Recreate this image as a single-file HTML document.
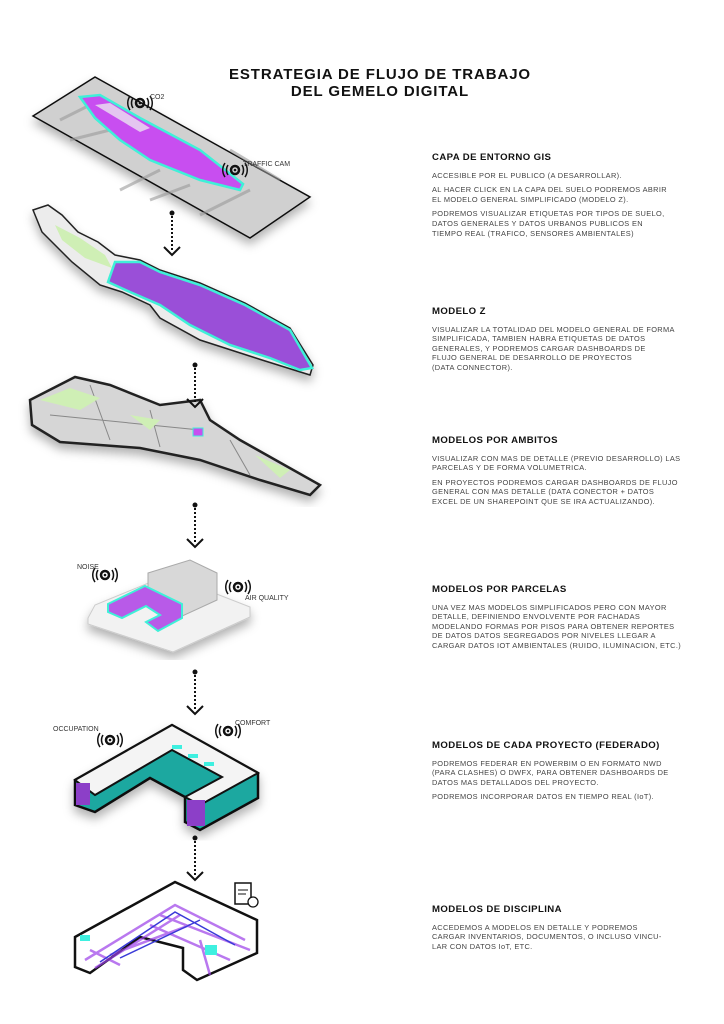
<!DOCTYPE html>
<html><head><meta charset="utf-8"><style>
body{margin:0;background:#fff;width:724px;height:1024px;overflow:hidden;position:relative;font-family:"Liberation Sans",sans-serif}
.t{position:absolute;left:210px;top:66px;width:340px;text-align:center;font-weight:bold;font-size:15px;line-height:17px;letter-spacing:0.9px;color:#111}
.c{position:absolute;left:432px;width:285px;color:#444;font-size:7.4px;line-height:9.6px;letter-spacing:0.35px}
.c h{display:block;font-weight:bold;font-size:9.6px;color:#111;margin-bottom:8px;letter-spacing:0.4px}
.c p{margin:0 0 5px 0}
svg{position:absolute;left:0;top:0}
.l{font-size:7px;fill:#333;font-family:"Liberation Sans",sans-serif}
</style></head><body>
<div class="t">ESTRATEGIA DE FLUJO DE TRABAJO<br>DEL GEMELO DIGITAL</div>
<div class="c" style="top:153px"><h>CAPA DE ENTORNO GIS</h><p>ACCESIBLE POR EL PUBLICO (A DESARROLLAR).</p><p>AL HACER CLICK EN LA CAPA DEL SUELO PODREMOS ABRIR<br>EL MODELO GENERAL SIMPLIFICADO (MODELO Z).</p><p>PODREMOS VISUALIZAR ETIQUETAS POR TIPOS DE SUELO,<br>DATOS GENERALES Y DATOS URBANOS PUBLICOS EN<br>TIEMPO REAL (TRAFICO, SENSORES AMBIENTALES)</p></div>
<div class="c" style="top:307px"><h>MODELO Z</h><p>VISUALIZAR LA TOTALIDAD DEL MODELO GENERAL DE FORMA<br>SIMPLIFICADA, TAMBIEN HABRA ETIQUETAS DE DATOS<br>GENERALES, Y PODREMOS CARGAR DASHBOARDS DE<br>FLUJO GENERAL DE DESARROLLO DE PROYECTOS<br>(DATA CONNECTOR).</p></div>
<div class="c" style="top:436px"><h>MODELOS POR AMBITOS</h><p>VISUALIZAR CON MAS DE DETALLE (PREVIO DESARROLLO) LAS<br>PARCELAS Y DE FORMA VOLUMETRICA.</p><p>EN PROYECTOS PODREMOS CARGAR DASHBOARDS DE FLUJO<br>GENERAL CON MAS DETALLE (DATA CONECTOR + DATOS<br>EXCEL DE UN SHAREPOINT QUE SE IRA ACTUALIZANDO).</p></div>
<div class="c" style="top:585px"><h>MODELOS POR PARCELAS</h><p>UNA VEZ MAS MODELOS SIMPLIFICADOS PERO CON MAYOR<br>DETALLE, DEFINIENDO ENVOLVENTE POR FACHADAS<br>MODELANDO FORMAS POR PISOS PARA OBTENER REPORTES<br>DE DATOS DATOS SEGREGADOS POR NIVELES LLEGAR A<br>CARGAR DATOS IOT AMBIENTALES (RUIDO, ILUMINACION, ETC.)</p></div>
<div class="c" style="top:741px"><h>MODELOS DE CADA PROYECTO (FEDERADO)</h><p>PODREMOS FEDERAR EN POWERBIM O EN FORMATO NWD<br>(PARA CLASHES) O DWFX, PARA OBTENER DASHBOARDS DE<br>DATOS MAS DETALLADOS DEL PROYECTO.</p><p>PODREMOS INCORPORAR DATOS EN TIEMPO REAL (IoT).</p></div>
<div class="c" style="top:905px"><h>MODELOS DE DISCIPLINA</h><p>ACCEDEMOS A MODELOS EN DETALLE Y PODREMOS<br>CARGAR INVENTARIOS, DOCUMENTOS, O INCLUSO VINCU-<br>LAR CON DATOS IoT, ETC.</p></div>
<svg width="724" height="1024" viewBox="0 0 724 1024">
<defs>
<g id="arr"><circle cx="0" cy="0" r="2.5" fill="#111"/><line x1="0" y1="3" x2="0" y2="38" stroke="#111" stroke-width="2" stroke-dasharray="2,2"/><polyline points="-8,34 0,42 8,34" fill="none" stroke="#111" stroke-width="2"/></g>
<g id="sen"><circle r="4" fill="none" stroke="#111" stroke-width="2.5"/><circle r="1.3" fill="#111"/><path d="M-7,-5 A9,9 0 0 0 -7,5 M7,-5 A9,9 0 0 1 7,5 M-10,-7 A12,12 0 0 0 -10,7 M10,-7 A12,12 0 0 1 10,7" fill="none" stroke="#111" stroke-width="1.5"/></g>
<filter id="sh"><feDropShadow dx="0" dy="6" stdDeviation="5" flood-opacity="0.3"/></filter>
</defs>
<!-- 1 GIS -->
<polygon points="33,116 95,77 310,197 250,238" fill="#d0d0d0" stroke="#111" stroke-width="1.5" filter="url(#sh)"/>
<path d="M60,120 L100,100 M120,190 L160,170 M200,215 L250,190 M230,150 L280,180 M70,140 L110,130 M150,200 L190,185" stroke="#999" stroke-width="3" fill="none" opacity="0.6"/>
<polygon points="80,97 100,95 140,118 200,150 243,184 240,190 200,180 150,160 120,140 95,118" fill="#c84ef0" stroke="#3ff0d8" stroke-width="2.5"/>
<polygon points="95,105 110,103 150,128 140,132" fill="#e4c6f0"/>
<use href="#sen" x="140" y="103"/><text class="l" x="150" y="99">CO2</text>
<use href="#sen" x="235" y="170"/><text class="l" x="243" y="166">TRAFFIC CAM</text>
<!-- 2 Modelo Z -->
<polygon points="33,210 48,205 62,215 78,232 98,242 115,255 140,260 160,270 200,283 245,303 290,328 313,365 310,375 262,360 200,340 160,318 150,305 122,292 100,285 72,262 42,232" fill="#ececec" stroke="#222" stroke-width="1.5" filter="url(#sh)"/>
<polygon points="55,225 80,238 105,255 112,268 85,258 62,240" fill="#cfefb5"/>
<polygon points="108,282 115,262 140,262 160,272 200,285 245,305 290,330 312,368 300,370 270,358 230,345 190,325 160,305 130,292" fill="#9a4fd8" stroke="#3ff0d8" stroke-width="2.5"/>
<!-- 3 Ambitos -->
<polygon points="30,400 75,377 110,385 160,405 200,400 210,420 240,440 320,485 310,495 260,480 200,460 140,448 60,442 32,425" fill="#d6d6d6" stroke="#222" stroke-width="2.5" filter="url(#sh)"/>
<path d="M50,415 L200,430 M90,385 L110,440 M150,410 L160,447 M230,440 L250,475" stroke="#888" stroke-width="1" fill="none"/>
<polygon points="40,400 70,388 100,398 80,410" fill="#cfefb5"/><polygon points="130,415 160,420 150,430" fill="#cfefb5"/><polygon points="255,455 290,470 280,478" fill="#cfefb5"/>
<rect x="193" y="428" width="10" height="8" fill="#c84ef0" stroke="#3ff0d8"/>
<!-- 4 Parcelas -->
<polygon points="88,618 95,605 168,575 250,607 250,617 173,652 88,624" fill="#f2f2f2" stroke="#ccc" filter="url(#sh)"/>
<polygon points="148,573 190,560 217,573 217,600 178,618 148,605" fill="#d8d8d8" stroke="#aaa"/>
<polygon points="108,604 145,586 182,604 182,618 158,631 146,622 160,615 146,606 122,618 108,612" fill="#b85ae8" stroke="#3ff0d8" stroke-width="2"/>
<use href="#sen" x="105" y="575"/><text class="l" x="77" y="569">NOISE</text>
<use href="#sen" x="238" y="587"/><text class="l" x="245" y="600">AIR QUALITY</text>
<!-- 5 Proyecto -->
<polygon points="75,780 172,725 258,773 258,798 200,830 185,822 185,797 150,778 95,812 75,805" fill="#1ea8a0" stroke="#111" stroke-width="2.5" filter="url(#sh)"/>
<polygon points="75,780 172,725 258,773 200,805 185,797 222,777 172,750 95,795" fill="#f4f4f4" stroke="#111" stroke-width="2"/>
<rect x="76" y="783" width="14" height="22" fill="#8c3fc8"/><rect x="187" y="800" width="18" height="26" fill="#8c3fc8"/>
<rect x="172" y="745" width="10" height="4" fill="#3ff0e0"/><rect x="188" y="754" width="10" height="4" fill="#3ff0e0"/><rect x="204" y="762" width="10" height="4" fill="#3ff0e0"/>
<use href="#sen" x="110" y="740"/><text class="l" x="53" y="731">OCCUPATION</text>
<use href="#sen" x="228" y="731"/><text class="l" x="235" y="725">COMFORT</text>
<!-- 6 Disciplina -->
<polygon points="75,937 175,882 257,920 257,953 197,980 183,970 183,948 140,937 90,973 75,967" fill="#fff" stroke="#111" stroke-width="2.5"/>
<path d="M85,960 L175,905 L245,940 M95,968 L180,915 M150,925 L230,960 M200,940 L210,975 M90,950 L120,965 M110,955 L190,925 M160,915 L250,950" stroke="#9b3fe8" stroke-width="2.5" fill="none" opacity="0.7"/>
<path d="M100,962 L175,912 L235,945 M120,958 L200,920" stroke="#3a3ad8" stroke-width="1.5" fill="none"/>
<rect x="205" y="945" width="12" height="10" fill="#3ff0e0"/><rect x="80" y="935" width="10" height="6" fill="#3ff0e0"/>
<rect x="235" y="883" width="16" height="21" fill="#fff" stroke="#111" stroke-width="1.5"/>
<line x1="238" y1="890" x2="248" y2="890" stroke="#111"/><line x1="238" y1="894" x2="246" y2="894" stroke="#111"/>
<circle cx="253" cy="902" r="5" fill="#fff" stroke="#111" stroke-width="1.3"/>
<!-- arrows on top -->
<use href="#arr" x="172" y="213"/>
<use href="#arr" x="195" y="365"/>
<use href="#arr" x="195" y="505"/>
<use href="#arr" x="195" y="672"/>
<use href="#arr" x="195" y="838"/>
</svg>
</body></html>
